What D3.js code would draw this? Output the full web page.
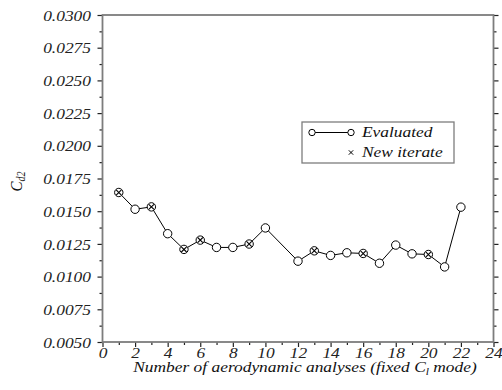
<!DOCTYPE html>
<html>
<head>
<meta charset="utf-8">
<script src="https://cdn.jsdelivr.net/npm/d3@7"></script>
<style>
  html, body { margin: 0; padding: 0; background: #fff; }
</style>
</head>
<body>
<svg id="chart" width="502" height="390"></svg>
<script>
// Drag coefficient history over successive aerodynamic analyses
const analyses = [1, 2, 3, 4, 5, 6, 7, 8, 9, 10, 12, 13, 14, 15, 16, 17, 18, 19, 20, 21, 22];
const cd2 = [0.01643, 0.01515, 0.01533, 0.01328, 0.01208, 0.01279, 0.01223, 0.01223, 0.01249, 0.01372,
             0.01118, 0.01197, 0.01162, 0.01182, 0.01177, 0.01102, 0.01241, 0.01174, 0.01169, 0.01074, 0.01531];
// analyses that produced a new design iterate
const newIterate = [1, 3, 5, 6, 9, 13, 16, 20];

const xTicks = [0, 2, 4, 6, 8, 10, 12, 14, 16, 18, 20, 22, 24];
const yTicks = [0.0050, 0.0075, 0.0100, 0.0125, 0.0150, 0.0175, 0.0200, 0.0225, 0.0250, 0.0275, 0.0300];

const FONT = "'Liberation Serif', 'Times New Roman', Times, serif";
const SX = 1.16;   // wide-set lettering

const svg = d3.select("#chart");
const L = 102.5, R = 493.5, T = 15, B = 342;

const x = d3.scaleLinear().domain([0, 24]).range([L, R]);
const y = d3.scaleLinear().domain([0.005, 0.030]).range([B, T]);

const frameColor = "#7d7d7d";

// minor ticks
const xMinor = d3.range(1, 24, 2);
const yMinor = d3.range(0, 10).map(i => 0.00625 + i * 0.0025);

const gx = svg.append("g").attr("transform", `translate(0,${B})`)
  .call(d3.axisBottom(x).tickValues(xTicks).tickSize(5).tickFormat(d3.format("d")));
svg.append("g").attr("transform", `translate(0,${B})`)
  .call(d3.axisBottom(x).tickValues(xMinor).tickSize(3).tickFormat(""));

const gy = svg.append("g").attr("transform", `translate(${L},0)`)
  .call(d3.axisLeft(y).tickValues(yTicks).tickSize(5).tickFormat(d3.format(".4f")));
svg.append("g").attr("transform", `translate(${L},0)`)
  .call(d3.axisLeft(y).tickValues(yMinor).tickSize(3).tickFormat(""));

svg.append("g").attr("transform", `translate(${R},0)`)
  .call(d3.axisRight(y).tickValues(yTicks).tickSize(5).tickFormat(""));
svg.append("g").attr("transform", `translate(${R},0)`)
  .call(d3.axisRight(y).tickValues(yMinor).tickSize(3).tickFormat(""));

svg.selectAll(".domain").remove();
svg.selectAll("g").attr("font-family", null).attr("font-size", null);
svg.selectAll(".tick line").attr("stroke", "#222").attr("stroke-width", 1.2);
svg.selectAll(".tick text").attr("fill", "#222");
gx.selectAll(".tick text").attr("y", 5).attr("dy", "0.71em");
gy.selectAll(".tick text").attr("x", -11.5).attr("dy", "0.34em");

// plot frame
svg.append("rect")
  .attr("x", L).attr("y", T).attr("width", R - L).attr("height", B - T)
  .attr("fill", "none").attr("stroke", frameColor).attr("stroke-width", 1.8);

// data line
const pts = analyses.map((a, i) => ({ a, v: cd2[i] }));
svg.append("path")
  .datum(pts)
  .attr("fill", "none").attr("stroke", "#000").attr("stroke-width", 1)
  .attr("d", d3.line().x(d => x(d.a)).y(d => y(d.v)));

svg.append("g").selectAll("circle").data(pts).join("circle")
  .attr("cx", d => x(d.a)).attr("cy", d => y(d.v)).attr("r", 4.2)
  .attr("fill", "#fff").attr("stroke", "#000").attr("stroke-width", 1);

// cross markers on new iterates
const crossPts = pts.filter(d => newIterate.includes(d.a));
const cs = 2.6;
svg.append("g").selectAll("path").data(crossPts).join("path")
  .attr("d", d => {
    const cx = x(d.a), cy = y(d.v);
    return `M${cx - cs},${cy - cs}L${cx + cs},${cy + cs}M${cx - cs},${cy + cs}L${cx + cs},${cy - cs}`;
  })
  .attr("stroke", "#000").attr("stroke-width", 1.1);

// legend
const lg = svg.append("g");
lg.append("rect").attr("x", 302).attr("y", 122).attr("width", 152).attr("height", 41)
  .attr("fill", "#fff").attr("stroke", frameColor).attr("stroke-width", 1.3);
lg.append("line").attr("x1", 312).attr("x2", 351).attr("y1", 132.5).attr("y2", 132.5)
  .attr("stroke", "#000").attr("stroke-width", 1);
[312, 351].forEach(cx => lg.append("circle").attr("cx", cx).attr("cy", 132.5).attr("r", 3.2)
  .attr("fill", "#fff").attr("stroke", "#000").attr("stroke-width", 1));
const lc = 2.2;
lg.append("path")
  .attr("d", `M${351 - lc},${152.5 - lc}L${351 + lc},${152.5 + lc}M${351 - lc},${152.5 + lc}L${351 + lc},${152.5 - lc}`)
  .attr("stroke", "#000").attr("stroke-width", 1);
lg.append("text").attr("x", 362).attr("y", 137.5).attr("fill", "#111").text("Evaluated");
lg.append("text").attr("x", 362).attr("y", 157).attr("fill", "#111").text("New iterate");

// x-axis title
const xt = svg.append("text").attr("x", 305).attr("y", 372)
  .attr("text-anchor", "middle").attr("fill", "#111");
xt.append("tspan").text("Number of aerodynamic analyses (fixed C");
xt.append("tspan").attr("dy", 3).style("font-size", "10px").text("l");
xt.append("tspan").attr("dy", -3).text(" mode)");

// shared type style, with every horizontal label set a little wide
svg.selectAll("text")
  .style("font-family", FONT)
  .style("font-style", "italic")
  .each(function () {
    if (!this.style.fontSize) this.style.fontSize = "15px";
    const t = d3.select(this);
    const px = +(t.attr("x") || 0);
    t.attr("x", px / SX).attr("transform", `scale(${SX},1)`);
  });

// y-axis title (rotated)
const yt = svg.append("text")
  .attr("transform", `translate(22,${(T + B) / 2 + 3}) scale(${SX},1) rotate(-90)`)
  .attr("text-anchor", "middle").attr("fill", "#111")
  .style("font-family", FONT).style("font-style", "italic").style("font-size", "15px");
yt.append("tspan").text("C");
yt.append("tspan").attr("dy", 3).style("font-size", "10px").text("d2");
</script>
</body>
</html>
